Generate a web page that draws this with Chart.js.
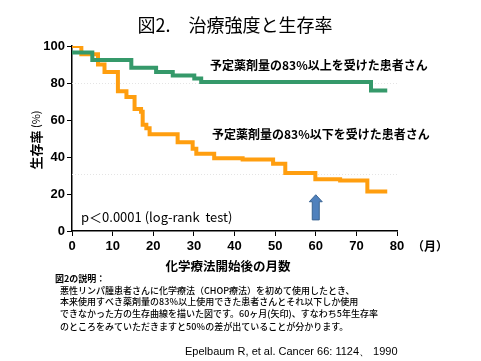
<!DOCTYPE html>
<html><head><meta charset="utf-8">
<script src="https://cdn.jsdelivr.net/npm/chart.js@4/dist/chart.umd.min.js"></script>
<style>html,body{margin:0;padding:0;background:#fff}canvas{display:block}</style>
</head><body>
<canvas id="c" width="481" height="361" style="width:481px;height:361px"></canvas>
<script>
const titleText = "図2.　治療強度と生存率";
const yAxisLabel = "生存率";
const yAxisUnit = "(%)";
const xAxisLabel = "化学療法開始後の月数";
const xUnitLabel = "（月）";
const xTicks = [0, 10, 20, 30, 40, 50, 60, 70, 80];
const yTicks = [0, 20, 40, 60, 80, 100];

// Series 1: received >= 83% of planned dose (green)
const highMonths   = [0,    5.0,  14.6, 20.7, 24.8, 30.1, 31.8, 73.6, 77.6];
const highSurvival = [96.5, 92.5, 88.3, 86.0, 84.0, 82.5, 80.5, 76.0, 76.0];
const highLabel = "予定薬剤量の83%以上を受けた患者さん";

// Series 2: received < 83% of planned dose (orange)
const lowMonths   = [0,   2.3,  6.4, 8.0, 11.3, 13.4, 15.4, 17.0, 17.4, 18.3, 19.1, 26.0, 29.7, 30.6, 35.0, 42.0, 49.5, 52.5, 59.9, 66.0, 72.7, 77.6];
const lowSurvival = [100, 95.5, 90,  86,  75.5, 72.5, 66,   64.5, 57.5, 55.5, 52.3, 48,   44.5, 41.7, 39.3, 38.6, 36.3, 31.3, 28,   27.3, 21.3, 21.3];
const lowLabel = "予定薬剤量の83%以下を受けた患者さん";

const pValueText = "p＜0.0001 (log-rank  test)";
const arrowMonth = 60;
const noteHeading = "図2の説明：";
const noteLines = [
  "悪性リンパ腫患者さんに化学療法（CHOP療法）を初めて使用したとき、",
  "本来使用すべき薬剤量の83％以上使用できた患者さんとそれ以下しか使用",
  "できなかった方の生存曲線を描いた図です。60ヶ月(矢印)、すなわち5年生存率",
  "のところをみていただきますと50％の差が出ていることが分かります。"
];
const citation = "Epelbaum R, et al. Cancer 66: 1124、 1990";
const faintGridValues = [80, 31];

const JP = '"Noto Sans CJK JP", sans-serif';
const LAT = '"Liberation Sans", Arial, sans-serif';

const overlay = {
  id: 'overlay',
  beforeDatasetsDraw(chart) {
    const ctx = chart.ctx, xs = chart.scales.x, ys = chart.scales.y;
    ctx.save();
    ctx.strokeStyle = '#e4e4e4';
    ctx.lineWidth = 1;
    ctx.setLineDash([1, 2]);
    faintGridValues.forEach(v => {
      const y = Math.round(ys.getPixelForValue(v)) + 0.5;
      ctx.beginPath(); ctx.moveTo(xs.left, y); ctx.lineTo(xs.getPixelForValue(80), y); ctx.stroke();
    });
    ctx.restore();
  },
  afterDraw(chart) {
    const ctx = chart.ctx, xs = chart.scales.x, ys = chart.scales.y;
    ctx.save();
    ctx.fillStyle = '#000';
    ctx.textBaseline = 'middle';
    // title
    ctx.textAlign = 'center';
    ctx.font = '18px ' + JP;
    ctx.fillText(titleText, 235, 25);
    // y axis label (rotated)
    ctx.save();
    ctx.translate(36, 140);
    ctx.rotate(-Math.PI / 2);
    ctx.font = 'bold 13px ' + JP;
    const w1 = ctx.measureText(yAxisLabel).width;
    ctx.font = '11px ' + JP;
    const w2 = ctx.measureText(' ' + yAxisUnit).width;
    const start = -(w1 + w2) / 2;
    ctx.textAlign = 'left';
    ctx.font = 'bold 13px ' + JP;
    ctx.fillText(yAxisLabel, start, 0);
    ctx.font = '11px ' + JP;
    ctx.fillText(' ' + yAxisUnit, start + w1, 0);
    ctx.restore();
    // x unit
    ctx.textAlign = 'left';
    ctx.font = 'bold 12px ' + JP;
    ctx.fillText(xUnitLabel, 412, 246);
    // x axis title
    ctx.textAlign = 'center';
    ctx.font = 'bold 12.5px ' + JP;
    ctx.fillText(xAxisLabel, 228, 266);
    // series annotations
    ctx.textAlign = 'left';
    ctx.font = 'bold 12px ' + JP;
    ctx.fillText(highLabel, 210, 65);
    ctx.fillText(lowLabel, 212, 134);
    // p value
    ctx.font = '13px ' + JP;
    ctx.fillText(pValueText, 81, 217);
    // arrow
    const ax = xs.getPixelForValue(arrowMonth);
    const tip = ys.getPixelForValue(19.6), base = ys.getPixelForValue(6);
    const hw = 3.5, hh = 6.5, headH = 7;
    ctx.beginPath();
    ctx.moveTo(ax, tip);
    ctx.lineTo(ax + hh, tip + headH);
    ctx.lineTo(ax + hw, tip + headH);
    ctx.lineTo(ax + hw, base);
    ctx.lineTo(ax - hw, base);
    ctx.lineTo(ax - hw, tip + headH);
    ctx.lineTo(ax - hh, tip + headH);
    ctx.closePath();
    ctx.fillStyle = '#4F81BD';
    ctx.fill();
    ctx.strokeStyle = '#3A6493';
    ctx.lineWidth = 1;
    ctx.stroke();
    // note
    ctx.fillStyle = '#000';
    ctx.font = 'bold 9px ' + JP;
    ctx.fillText(noteHeading, 55, 279);
    ctx.font = '500 9px ' + JP;
    const ly = [290.5, 302, 314, 326.5];
    noteLines.forEach((t, i) => ctx.fillText(t, 60, ly[i]));
    // citation
    ctx.font = '11px ' + LAT;
    ctx.fillText(citation, 185, 352);
    ctx.restore();
  }
};

const toXY = (ts, vs) => ts.map((t, i) => ({ x: t, y: vs[i] }));

new Chart(document.getElementById('c'), {
  type: 'line',
  data: {
    datasets: [
      { label: highLabel, data: toXY(highMonths, highSurvival), borderColor: '#35996A', borderWidth: 4, stepped: true, pointRadius: 0, fill: false, borderJoinStyle: 'miter' },
      { label: lowLabel, data: toXY(lowMonths, lowSurvival), borderColor: '#FF9E0F', borderWidth: 4, stepped: true, pointRadius: 0, fill: false, borderJoinStyle: 'miter' }
    ]
  },
  options: {
    responsive: false,
    animation: false,
    devicePixelRatio: 1,
    layout: { padding: { top: 46, right: 84, left: 0, bottom: 0 } },
    plugins: { legend: { display: false }, tooltip: { enabled: false } },
    scales: {
      x: {
        type: 'linear', min: 0, max: 80,
        afterBuildTicks: s => { s.ticks = xTicks.map(v => ({ value: v })); },
        afterFit: s => { s.height = 130; },
        ticks: { color: '#000', font: { family: LAT, size: 13, weight: 'bold' }, padding: 3, maxRotation: 0 },
        grid: { drawOnChartArea: false, drawTicks: true, tickLength: 5, color: '#000', lineWidth: 1 },
        border: { display: true, color: '#000', width: 1.5 }
      },
      y: {
        min: 0, max: 100,
        afterBuildTicks: s => { s.ticks = yTicks.map(v => ({ value: v })); },
        afterFit: s => { s.width = 72; },
        ticks: { color: '#000', font: { family: LAT, size: 13, weight: 'bold' }, padding: 2 },
        grid: { drawOnChartArea: false, drawTicks: true, tickLength: 5, color: '#000', lineWidth: 1 },
        border: { display: true, color: '#000', width: 1.5 }
      }
    }
  },
  plugins: [overlay]
});
</script>
</body></html>
